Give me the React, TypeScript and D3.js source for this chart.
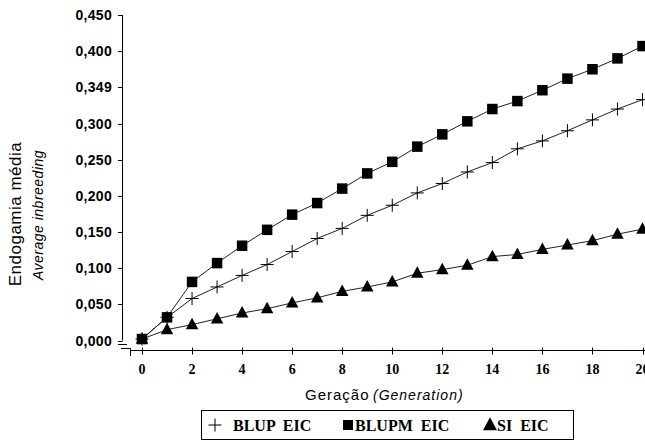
import React from "react";
import * as d3 from "d3";

const generations = d3.range(0, 21);
const blupEic = [0.002, 0.032, 0.058, 0.074, 0.090, 0.105, 0.123, 0.141, 0.155, 0.173, 0.187, 0.204, 0.217, 0.233, 0.246, 0.265, 0.276, 0.290, 0.305, 0.320, 0.333];
const blupmEic = [0.002, 0.032, 0.081, 0.107, 0.131, 0.153, 0.174, 0.190, 0.210, 0.231, 0.247, 0.268, 0.285, 0.303, 0.320, 0.331, 0.346, 0.362, 0.375, 0.390, 0.407];
const siEic = [0.002, 0.015, 0.022, 0.030, 0.038, 0.044, 0.052, 0.059, 0.068, 0.074, 0.081, 0.093, 0.098, 0.104, 0.116, 0.119, 0.126, 0.132, 0.138, 0.147, 0.154];
const yTickValues = [0, 0.05, 0.1, 0.15, 0.2, 0.25, 0.3, 0.35, 0.4, 0.45];
const yTickLabels = ["0,000", "0,050", "0,100", "0,150", "0,200", "0,250", "0,300", "0,349", "0,400", "0,450"];
const xTickValues = [0, 2, 4, 6, 8, 10, 12, 14, 16, 18, 20];
const seriesNames = ["BLUP  EIC", "BLUPM  EIC", "SI  EIC"];

const x = d3.scaleLinear().domain([0, 20]).range([142, 642.5]);
const y = d3.scaleLinear().domain([0, 0.45]).range([340.5, 15]);

const sans = "'Liberation Sans', Arial, sans-serif";
const serif = "'Liberation Serif', 'Times New Roman', serif";

function Plus({ cx, cy, s = 6.5 }: { cx: number; cy: number; s?: number }) {
  return (
    <g stroke="#000" strokeWidth={1}>
      <line x1={cx - s} x2={cx + s} y1={cy} y2={cy} />
      <line x1={cx} x2={cx} y1={cy - s} y2={cy + s} />
    </g>
  );
}
function Square({ cx, cy, s = 10.5 }: { cx: number; cy: number; s?: number }) {
  return <rect x={cx - s / 2} y={cy - s / 2} width={s} height={s} fill="#000" />;
}
function Tri({ cx, cy, w = 12.5, h = 11.5 }: { cx: number; cy: number; w?: number; h?: number }) {
  return <path d={`M${cx},${cy - h * 0.6}L${cx + w / 2},${cy + h * 0.4}L${cx - w / 2},${cy + h * 0.4}Z`} fill="#000" />;
}

export default function App() {
  const line = d3
    .line<number>()
    .x((_, i) => x(generations[i]))
    .y((d) => y(d));
  const xAxisY = 350.5;
  return (
    <svg width={645} height={446} style={{ position: "absolute", left: 0, top: 0, background: "#fff" }}>
      <rect width={645} height={446} fill="#fff" />
      {/* y axis */}
      <line x1={122.5} x2={122.5} y1={y(0.45)} y2={y(0)} stroke="#000" />
      {yTickValues.map((v, i) => (
        <g key={i}>
          <line x1={118} x2={122.5} y1={Math.round(y(v)) + 0.5} y2={Math.round(y(v)) + 0.5} stroke="#000" />
          <text x={112} y={y(v) + 5} textAnchor="end" fontFamily={sans} fontWeight="bold" fontSize={14} letterSpacing={0.3} fill="#000">
            {yTickLabels[i]}
          </text>
        </g>
      ))}
      {/* axis break */}
      <line x1={118} x2={127} y1={344.5} y2={344.5} stroke="#000" />
      <path d="M121,348.5H130.5V356" fill="none" stroke="#000" />
      {/* x axis */}
      <line x1={130.5} x2={645} y1={xAxisY} y2={xAxisY} stroke="#000" />
      {xTickValues.map((v) => (
        <g key={v}>
          <line x1={Math.round(x(v)) + 0.5} x2={Math.round(x(v)) + 0.5} y1={xAxisY - 3} y2={xAxisY + 4} stroke="#000" />
          <text x={x(v)} y={374} textAnchor="middle" fontFamily={serif} fontWeight="bold" fontSize={14} fill="#000">
            {v}
          </text>
        </g>
      ))}
      {/* lines */}
      {[blupEic, blupmEic, siEic].map((s, i) => (
        <path key={i} d={line(s) || ""} fill="none" stroke="#222" strokeWidth={1} />
      ))}
      {/* markers */}
      {siEic.map((v, i) => (
        <Tri key={"t" + i} cx={x(generations[i])} cy={y(v)} />
      ))}
      {blupmEic.map((v, i) => (
        <Square key={"s" + i} cx={x(generations[i])} cy={y(v)} />
      ))}
      {blupEic.map((v, i) => (
        <Plus key={"p" + i} cx={x(generations[i])} cy={y(v)} />
      ))}
      {/* axis titles */}
      <text transform="translate(20.5,214) rotate(-90)" textAnchor="middle" fontFamily={sans} fontSize={17} letterSpacing={0.5} fill="#000">
        Endogamia média
      </text>
      <text transform="translate(43,215) rotate(-90)" textAnchor="middle" fontFamily={sans} fontStyle="italic" fontSize={14} letterSpacing={0.5} fill="#000">
        Average inbreeding
      </text>
      <text x={305} y={400} fontFamily={sans} fontSize={15} letterSpacing={1} fill="#000">
        Geração
      </text>
      <text x={373} y={400} fontFamily={sans} fontStyle="italic" fontSize={14} letterSpacing={1} fill="#000">
        (Generation)
      </text>
      {/* legend */}
      <rect x={201.5} y={410.5} width={372} height={29} fill="#fff" stroke="#000" />
      <Plus cx={215} cy={425} s={6.5} />
      <text x={233} y={430.5} fontFamily={serif} fontWeight="bold" fontSize={16} style={{ whiteSpace: "pre" }} fill="#000">
        {seriesNames[0]}
      </text>
      <Square cx={348} cy={425} s={10} />
      <text x={355} y={430.5} fontFamily={serif} fontWeight="bold" fontSize={16} style={{ whiteSpace: "pre" }} fill="#000">
        {seriesNames[1]}
      </text>
      <Tri cx={490} cy={425} w={14} h={13} />
      <text x={497} y={430.5} fontFamily={serif} fontWeight="bold" fontSize={16} style={{ whiteSpace: "pre" }} fill="#000">
        {seriesNames[2]}
      </text>
    </svg>
  );
}
